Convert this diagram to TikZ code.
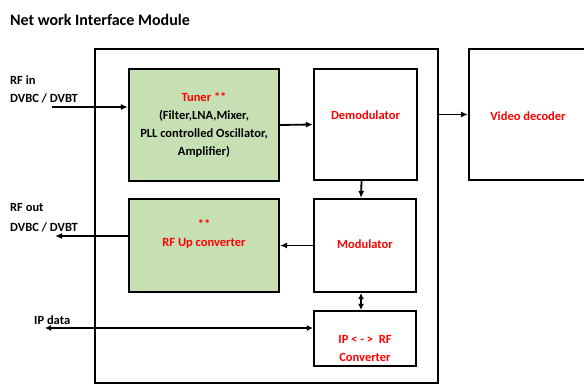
\documentclass[tikz,border=0pt]{standalone}
\usepackage{fontspec}
\setmainfont{Carlito}
\usepackage{xcolor}
\usepackage{tikz}
\usetikzlibrary{arrows.meta,positioning,calc}

\definecolor{blockgreen}{RGB}{198,224,180}
\tikzset{
  blk/.style={draw,line width=2.2pt,inner sep=0pt},
  lbl/.style={font=\fontsize{12.5}{18}\selectfont\bfseries,align=center,inner sep=0pt},
  redlbl/.style={lbl,text=red},
  arr/.style={line width=1.8pt,-{Latex[length=7pt,width=6pt]}},
  darr/.style={line width=1.8pt,{Latex[length=6pt,width=6pt]}-{Latex[length=6pt,width=6pt]}}
}

\begin{document}
\begin{tikzpicture}[x=1pt,y=-1pt]
  \useasboundingbox (0,0) rectangle (584,385);
  \node[anchor=west,inner sep=0pt,font=\fontsize{16}{18}\selectfont\bfseries] (title) at (10,20) {Net work Interface Module};
  % module and blocks
  \node[blk,minimum width=343pt,minimum height=334pt] (nim) at (266.5,216) {};
  \node[blk,fill=blockgreen,minimum width=150pt,minimum height=112pt] (tuner) at (204,125) {};
  \node[blk,fill=blockgreen,minimum width=150pt,minimum height=93pt] (rfup) at (204,245.5) {};
  \node[blk,minimum width=103pt,minimum height=111pt] (demod) at (365.5,124.5) {};
  \node[blk,minimum width=102pt,minimum height=93pt] (mod) at (365,245.5) {};
  \node[blk,minimum width=102pt,minimum height=55pt] (ipconv) at (365,338.5) {};
  \node[blk,minimum width=118pt,minimum height=131pt] (vdec) at (528,114.5) {};
  % texts
  \node[lbl] (tunertxt) at (204,125) {\textcolor{red}{Tuner **}\\(Filter,LNA,Mixer,\\PLL controlled Oscillator,\\Amplifier)};
  \node[redlbl] (rfuptxt) at (204,234) {**\\RF Up converter};
  \node[redlbl] (demodtxt) at (365.5,115) {Demodulator};
  \node[redlbl] (modtxt) at (365,244) {Modulator};
  \node[redlbl] (ipconvtxt) at (365,348) {IP < - >\ \ RF\\Converter};
  \node[redlbl] (vdectxt) at (528,116) {Video decoder};
  \node[lbl,align=left,anchor=west] (rfintxt) at (10,89) {RF in\\DVBC / DVBT};
  \node[lbl,align=left,anchor=west,font=\fontsize{12.5}{20}\selectfont\bfseries] (rfouttxt) at (10,218) {RF out\\DVBC / DVBT};
  \node[lbl,anchor=west] (ipdatatxt) at (34,320) {IP data};
  % free ends
  \coordinate (rfin) at (52,107);
  \coordinate (rfout) at (55,236);
  \coordinate (ipdata) at (45,328);
  % connectors
  \draw[arr] (rfin) -- (rfin -| tuner.west);
  \draw[arr] (tuner.east) -- (demod.west);
  \draw[arr] (nim.east |- vdec.west) -- (vdec.west);
  \draw[arr] ([xshift=-4pt]demod.south) -- ([xshift=-4pt]mod.north);
  \draw[arr] (mod.west) -- (rfup.east);
  \draw[arr] (rfup.west |- rfout) -- (rfout);
  \draw[darr] ([xshift=-4pt]mod.south) -- ([xshift=-4pt]ipconv.north);
  \draw[darr] (ipdata) -- (ipdata -| ipconv.west);
\end{tikzpicture}
\end{document}
